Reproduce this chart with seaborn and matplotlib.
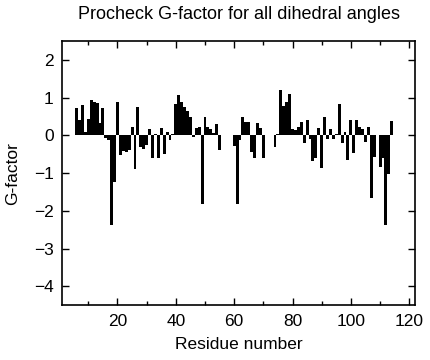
import numpy as np
import pandas as pd
import matplotlib
matplotlib.use("Agg")
import matplotlib.pyplot as plt
from matplotlib.ticker import MultipleLocator
import seaborn as sns

# Residues with a G-factor value (gaps where no value was computed)
residues = (list(range(6, 56)) + list(range(60, 71)) +
            list(range(74, 109)) + list(range(110, 115)))

g_factor = [
    0.73, 0.42, 0.81, 0.09, 0.44, 0.93, 0.88, 0.85, 0.33, 0.72,      # 6-15
    -0.08, -0.12, -2.38, -1.24, 0.88, -0.53, -0.40, -0.44, -0.38, 0.23,  # 16-25
    -0.89, 0.74, -0.31, -0.37, -0.25, 0.18, -0.60, 0.05, -0.60, 0.20,    # 26-35
    -0.49, 0.08, -0.13, 0.04, 0.84, 1.06, 0.88, 0.75, 0.65, 0.50,       # 36-45
    -0.05, 0.20, 0.21, -1.83, 0.49, 0.23, 0.18, 0.07, 0.31, -0.39,       # 46-55
    -0.28, -1.82, -0.12, 0.48, 0.35, 0.35, -0.45, -0.60, 0.33, 0.20,     # 60-69
    -0.60,                                                               # 70
    -0.30, 0.05, 1.19, 0.77, 0.88, 1.10, 0.16, 0.14, 0.23, 0.35,         # 74-83
    -0.21, 0.42, -0.10, -0.69, -0.61, 0.19, -0.87, 0.49, -0.09, 0.16,    # 84-93
    -0.09, 0.04, 0.82, -0.19, 0.10, -0.66, 0.42, -0.46, 0.42, 0.23,      # 94-103
    0.18, -0.17, 0.21, -1.66, -0.58,                                     # 104-108
    -0.85, -0.61, -2.37, -1.01, 0.39,                                    # 110-114
]

df = pd.DataFrame({"Residue": residues, "G-factor": g_factor})

sns.set_style("ticks")
plt.rcParams["font.family"] = ["Liberation Sans", "DejaVu Sans"]
plt.rcParams["text.color"] = "black"
plt.rcParams["axes.labelcolor"] = "black"

fig = plt.figure(figsize=(4.31, 3.6), dpi=100)
ax = fig.add_axes([0.144, 0.152, 0.819, 0.734])

sns.barplot(data=df, x="Residue", y="G-factor", native_scale=True,
            color="black", saturation=1, width=1.0, linewidth=0, ax=ax)

ax.set_xlim(1, 122)
ax.set_ylim(-4.5, 2.5)
ax.xaxis.set_major_locator(MultipleLocator(20))
ax.xaxis.set_minor_locator(MultipleLocator(10))
ax.yaxis.set_major_locator(MultipleLocator(1))
ax.tick_params(which="both", direction="in", top=True, right=True,
               labelsize=12.5, colors="black", width=1.0)
ax.tick_params(which="major", length=5, pad=6)
ax.tick_params(which="minor", length=3)
for spine in ax.spines.values():
    spine.set_linewidth(1.2)
    spine.set_color("black")

ax.set_title("Procheck G-factor for all dihedral angles", fontsize=13,
             pad=16, color="black")
ax.set_xlabel("Residue number", fontsize=12.5, labelpad=6, color="black")
ax.set_ylabel("G-factor", fontsize=12.5, labelpad=10, color="black")

fig.savefig("out.png", dpi=100)
